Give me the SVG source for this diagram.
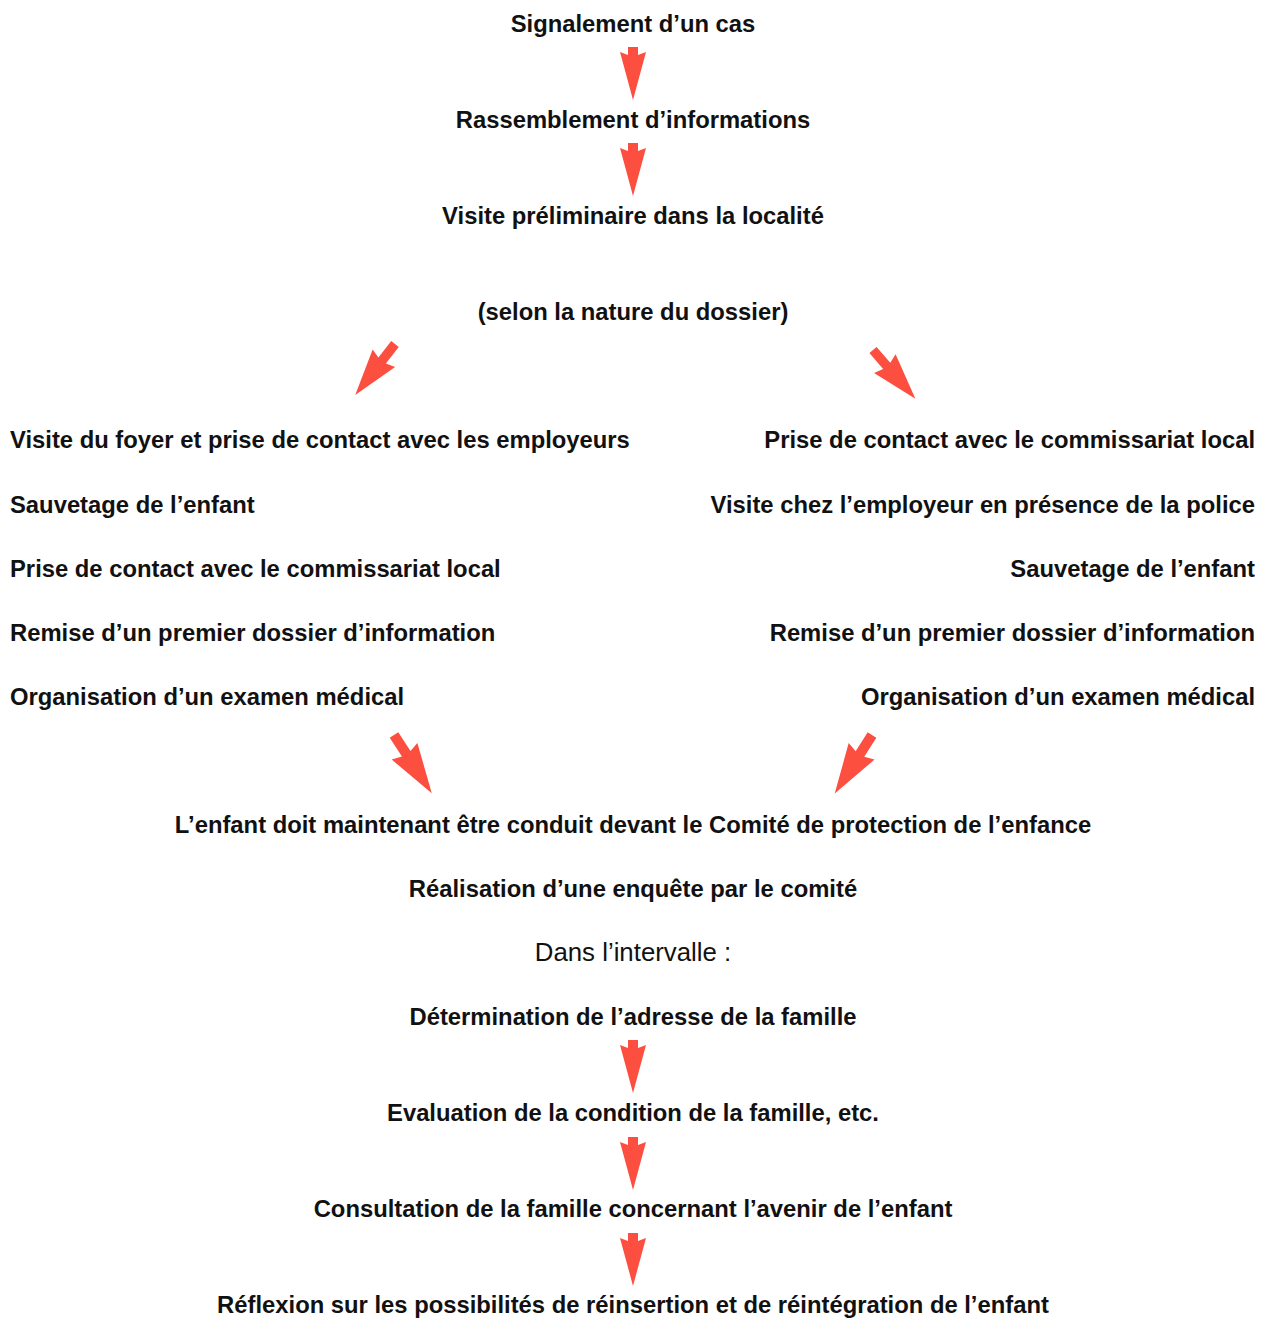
<svg xmlns="http://www.w3.org/2000/svg" width="1268" height="1318" viewBox="0 0 1268 1318">
<style>
text{font-family:"Liberation Sans",Arial,sans-serif;font-size:23.8px;font-weight:bold;fill:#111}
.c{text-anchor:middle}
.r{text-anchor:end}
.n{font-weight:normal;font-size:25.8px}
.arr{fill:#fc4f3f}
</style>
<defs>
<path id="av" d="M-5,0 L5,0 L5,8 L13,5 L0,53 L-13,5 L-5,8 Z"/>
<path id="ad" d="M-5,0 L5,0 L5,22 L15,19 L0,68 L-15,19 L-5,22 Z"/>
</defs>
<rect width="1268" height="1318" fill="#fff"/>
<g id="connectors" class="arr">
<use href="#av" transform="translate(633,47)"/>
<use href="#av" transform="translate(633,143)"/>
<use href="#ad" transform="translate(395,344) rotate(38) scale(0.95)"/>
<use href="#ad" transform="translate(873,350) rotate(-41) scale(0.95)"/>
<use href="#ad" transform="translate(394,735) rotate(-33) scale(1.02)"/>
<use href="#ad" transform="translate(872,735) rotate(32.5) scale(1.02)"/>
<use href="#av" transform="translate(633,1040)"/>
<use href="#av" transform="translate(633,1137)"/>
<use href="#av" transform="translate(633,1233)"/>
</g>
<g id="n1"><text class="c" x="633" y="32">Signalement d’un cas</text></g>
<g id="n2"><text class="c" x="633" y="128">Rassemblement d’informations</text></g>
<g id="n3"><text class="c" x="633" y="224">Visite préliminaire dans la localité</text></g>
<g id="n4"><text class="c" x="633" y="320">(selon la nature du dossier)</text></g>
<g id="left">
<text x="10" y="448">Visite du foyer et prise de contact avec les employeurs</text>
<text x="10" y="513">Sauvetage de l’enfant</text>
<text x="10" y="577">Prise de contact avec le commissariat local</text>
<text x="10" y="641">Remise d’un premier dossier d’information</text>
<text x="10" y="705">Organisation d’un examen médical</text>
</g>
<g id="right">
<text class="r" x="1255" y="448">Prise de contact avec le commissariat local</text>
<text class="r" x="1255" y="513">Visite chez l’employeur en présence de la police</text>
<text class="r" x="1255" y="577">Sauvetage de l’enfant</text>
<text class="r" x="1255" y="641">Remise d’un premier dossier d’information</text>
<text class="r" x="1255" y="705">Organisation d’un examen médical</text>
</g>
<g id="n5"><text class="c" x="633" y="833">L’enfant doit maintenant être conduit devant le Comité de protection de l’enfance</text></g>
<g id="n6"><text class="c" x="633" y="897">Réalisation d’une enquête par le comité</text></g>
<g id="n7"><text class="c n" x="633" y="961">Dans l’intervalle :</text></g>
<g id="n8"><text class="c" x="633" y="1025">Détermination de l’adresse de la famille</text></g>
<g id="n9"><text class="c" x="633" y="1121">Evaluation de la condition de la famille, etc.</text></g>
<g id="n10"><text class="c" x="633" y="1217">Consultation de la famille concernant l’avenir de l’enfant</text></g>
<g id="n11"><text class="c" x="633" y="1313">Réflexion sur les possibilités de réinsertion et de réintégration de l’enfant</text></g>
</svg>
